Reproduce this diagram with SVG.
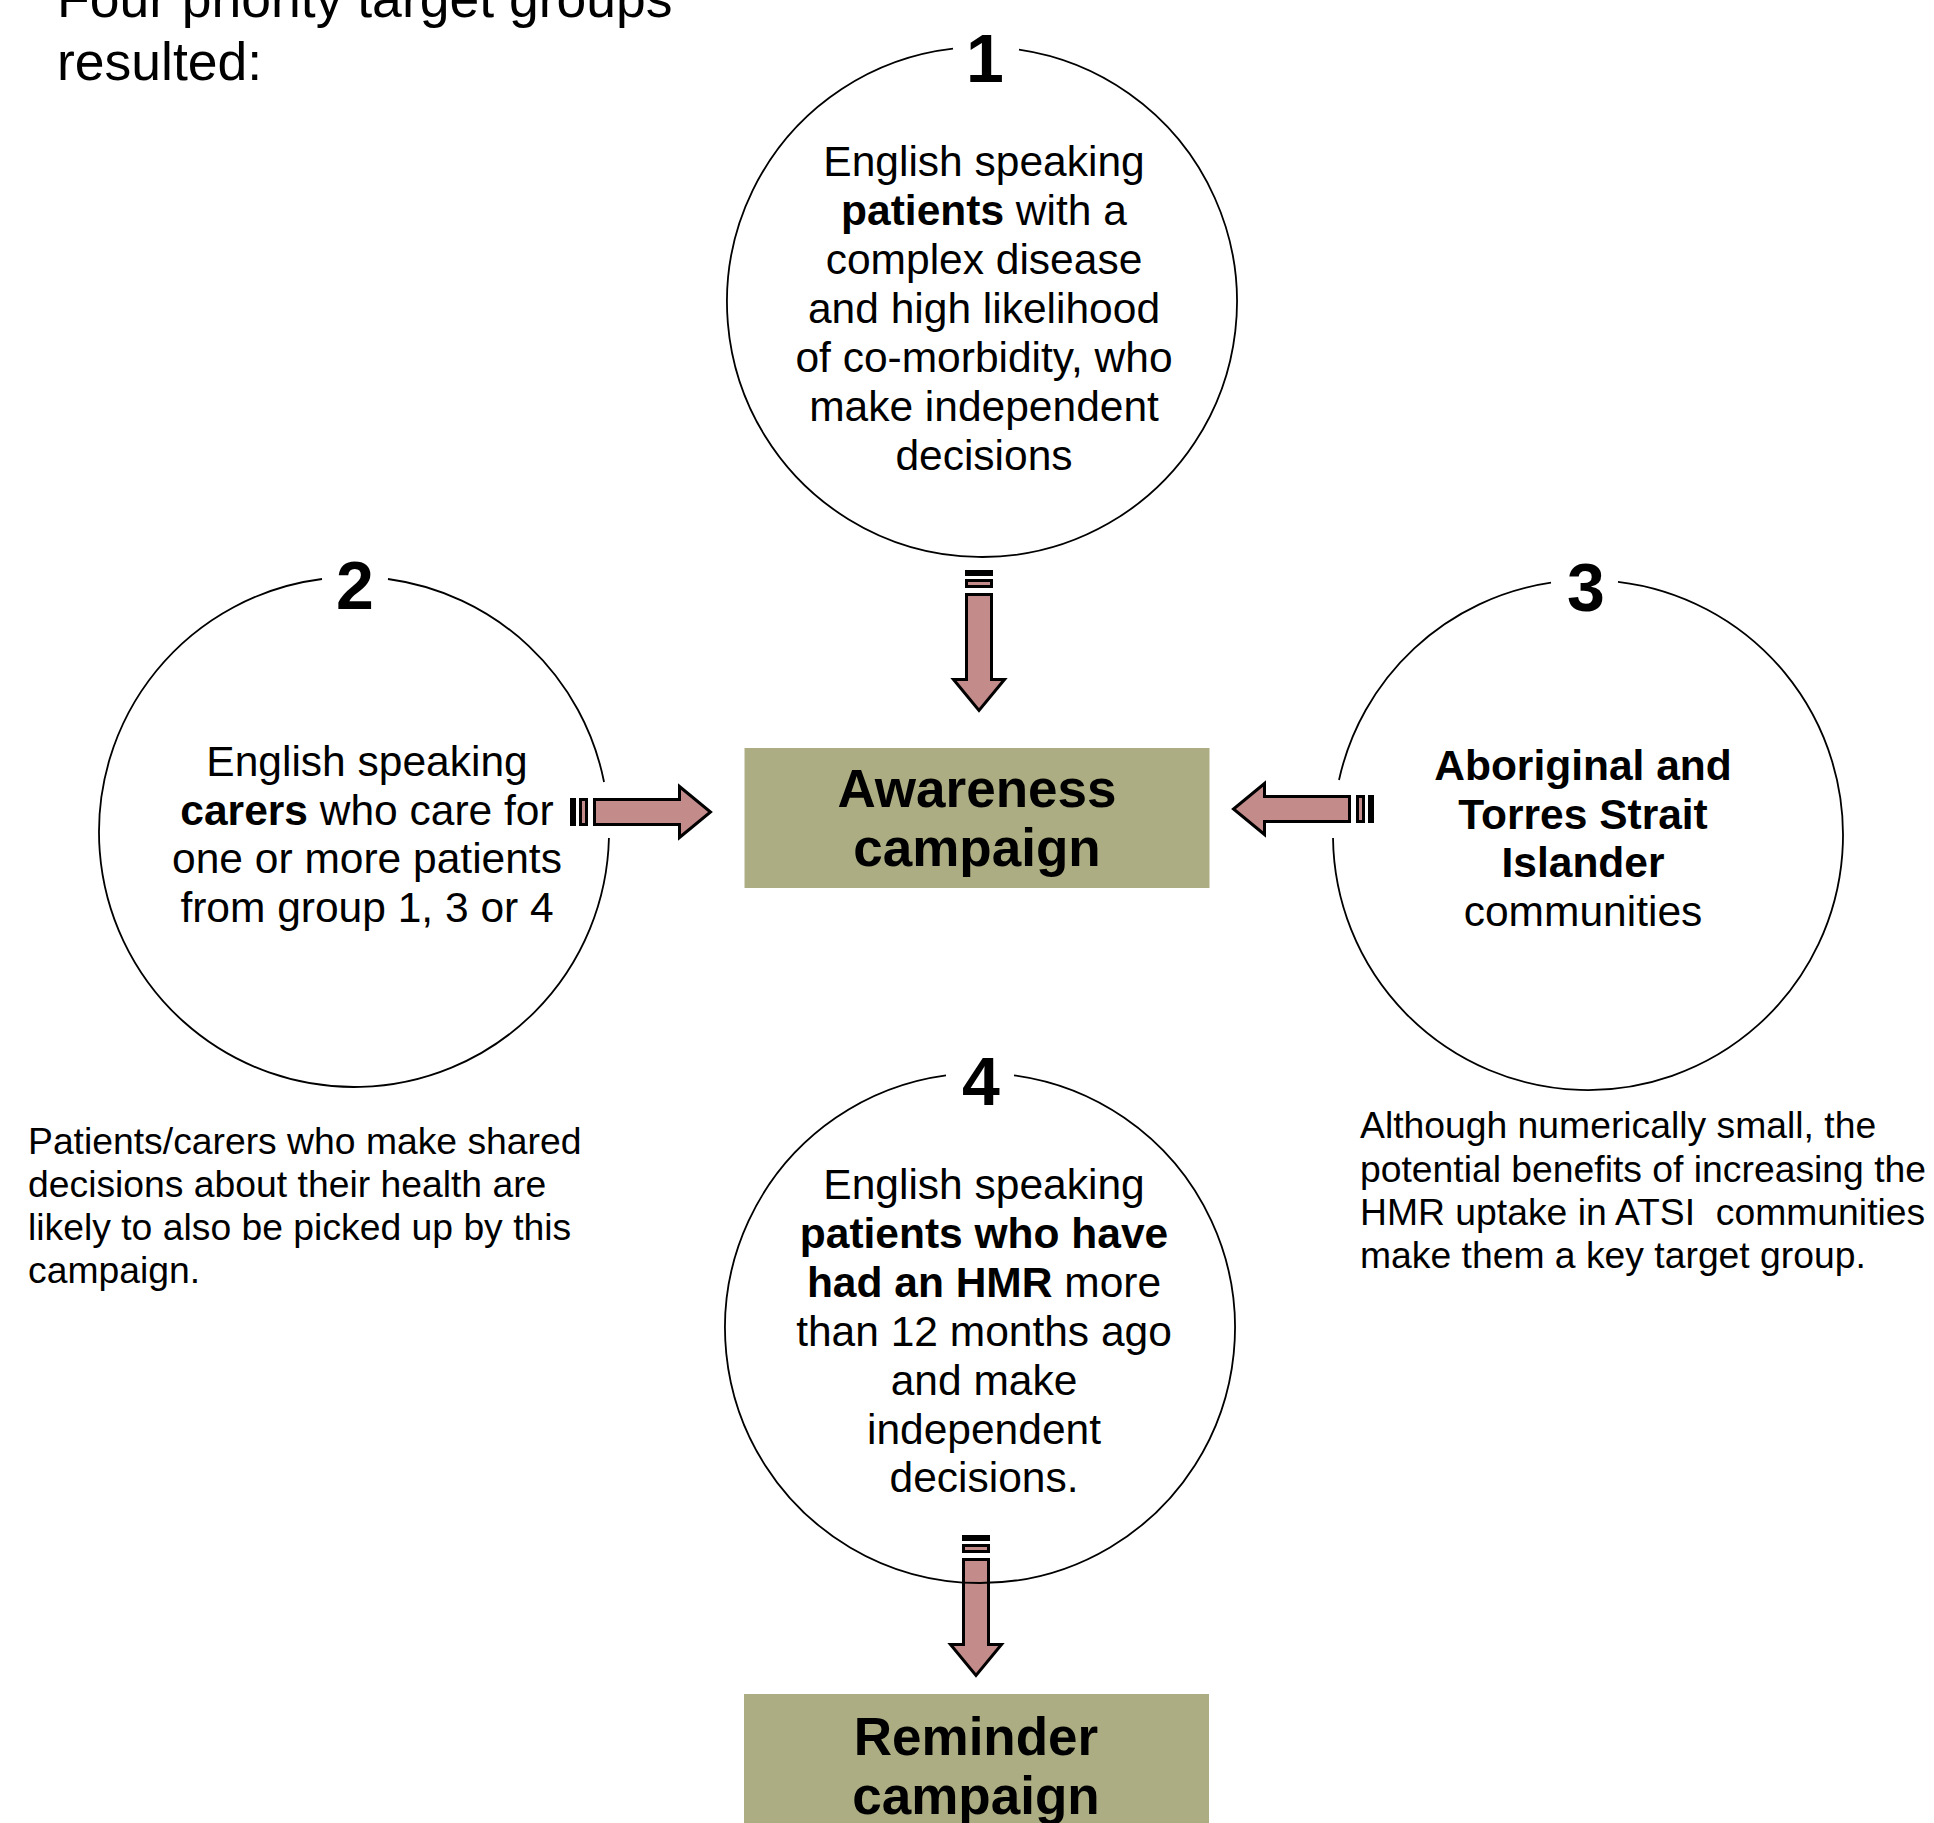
<svg xmlns="http://www.w3.org/2000/svg" xmlns:xlink="http://www.w3.org/1999/xlink" width="1934" height="1823" viewBox="0 0 1934 1823">
<style>
  text { font-family: "Liberation Sans", Arial, Helvetica, sans-serif; fill: #000; }
  .ct { font-size: 42.5px; text-anchor: middle; }
  .b { font-weight: bold; }
  .num { font-size: 68px; font-weight: bold; text-anchor: middle; }
  .ring { fill: none; stroke: #000; stroke-width: 1.8; }
  .box { fill: #adad83; }
  .bt { font-size: 53px; font-weight: bold; text-anchor: middle; }
  .note { font-size: 37.3px; }
  .title { font-size: 53.5px; }
  .arw { fill: #c48b8b; stroke: #000; stroke-width: 3; stroke-linejoin: miter; }
</style>
<defs>
  <g id="arrow">
    <rect x="0" y="-14" width="6" height="28" fill="#000"/>
    <rect class="arw" x="10.5" y="-12.5" width="6" height="25"/>
    <polygon class="arw" points="24.5,-12.5 109.5,-12.5 109.5,-25.5 140.5,0 109.5,25.5 109.5,12.5 24.5,12.5"/>
  </g>
</defs>
<rect width="1934" height="1823" fill="#fff"/>

<g id="title">
  <text class="title" x="57" y="17">Four priority target groups</text>
  <text class="title" x="57" y="80">resulted:</text>
</g>

<g id="connectors">
  <use xlink:href="#arrow" href="#arrow" transform="translate(979,570) rotate(90)"/>
  <use xlink:href="#arrow" href="#arrow" transform="translate(570,812)"/>
  <use xlink:href="#arrow" href="#arrow" transform="translate(1374,809) scale(-1,1)"/>
  <use xlink:href="#arrow" href="#arrow" transform="translate(976,1535) rotate(90)"/>
</g>

<g id="group1">
  <path class="ring" d="M 1019 49.7 A 255 255 0 1 1 953 48.65"/>
  <text class="num" x="985" y="82">1</text>
  <text class="ct" x="984" y="176">English speaking</text>
  <text class="ct" x="984" y="225"><tspan class="b">patients</tspan> with a</text>
  <text class="ct" x="984" y="274">complex disease</text>
  <text class="ct" x="984" y="323">and high likelihood</text>
  <text class="ct" x="984" y="372">of co-morbidity, who</text>
  <text class="ct" x="984" y="421">make independent</text>
  <text class="ct" x="984" y="470">decisions</text>
</g>

<g id="group2">
  <path class="ring" d="M 388 579 A 255 255 0 0 1 604.05 782 M 608.93 838 A 255 255 0 1 1 322 579"/>
  <text class="num" x="355" y="609">2</text>
  <text class="ct" x="367" y="776">English speaking</text>
  <text class="ct" x="367" y="825"><tspan class="b">carers</tspan> who care for</text>
  <text class="ct" x="367" y="873">one or more patients</text>
  <text class="ct" x="367" y="922">from group 1, 3 or 4</text>
</g>

<g id="group3">
  <path class="ring" d="M 1618 581.8 A 255 255 0 1 1 1333.02 838 M 1339 780 A 255 255 0 0 1 1551 582.7"/>
  <text class="num" x="1586" y="611">3</text>
  <text class="ct b" x="1583" y="780">Aboriginal and</text>
  <text class="ct b" x="1583" y="829">Torres Strait</text>
  <text class="ct b" x="1583" y="877">Islander</text>
  <text class="ct" x="1583" y="926">communities</text>
</g>

<g id="group4">
  <path class="ring" d="M 1014 1075.3 A 255 255 0 1 1 946 1075.3"/>
  <text class="num" x="981" y="1105">4</text>
  <text class="ct" x="984" y="1199">English speaking</text>
  <text class="ct b" x="984" y="1248">patients who have</text>
  <text class="ct" x="984" y="1297"><tspan class="b">had an HMR</tspan> more</text>
  <text class="ct" x="984" y="1346">than 12 months ago</text>
  <text class="ct" x="984" y="1395">and make</text>
  <text class="ct" x="984" y="1444">independent</text>
  <text class="ct" x="984" y="1492">decisions.</text>
</g>

<g id="awareness">
  <rect class="box" x="744.5" y="748" width="465" height="140"/>
  <text class="bt" x="977" y="807">Awareness</text>
  <text class="bt" x="977" y="866">campaign</text>
</g>

<g id="reminder">
  <rect class="box" x="744" y="1694" width="465" height="140"/>
  <text class="bt" x="976" y="1755">Reminder</text>
  <text class="bt" x="976" y="1814">campaign</text>
</g>

<g id="note-left">
  <text class="note" x="28" y="1154">Patients/carers who make shared</text>
  <text class="note" x="28" y="1197">decisions about their health are</text>
  <text class="note" x="28" y="1240">likely to also be picked up by this</text>
  <text class="note" x="28" y="1283">campaign.</text>
</g>

<g id="note-right">
  <text class="note" x="1360" y="1138">Although numerically small, the</text>
  <text class="note" x="1360" y="1182">potential benefits of increasing the</text>
  <text class="note" x="1360" y="1225" xml:space="preserve">HMR uptake in ATSI  communities</text>
  <text class="note" x="1360" y="1268">make them a key target group.</text>
</g>
</svg>
